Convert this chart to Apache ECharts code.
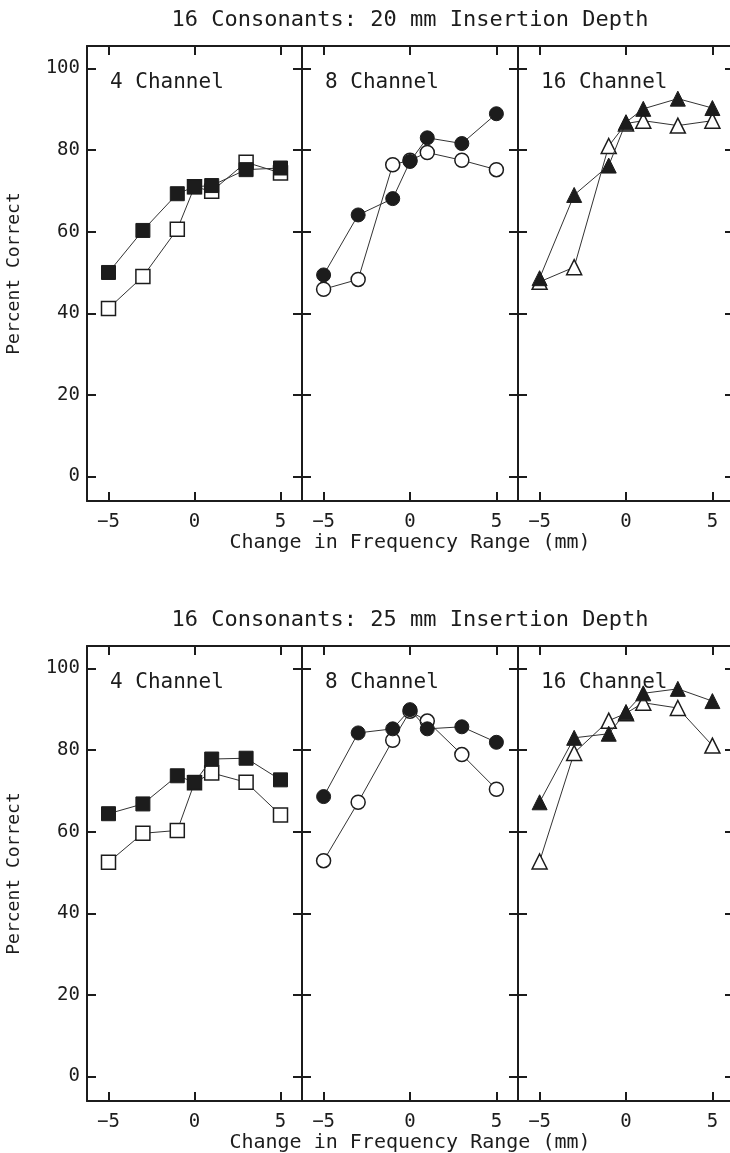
<!DOCTYPE html>
<html>
<head>
<meta charset="utf-8">
<script src="https://cdn.jsdelivr.net/npm/echarts@6/dist/echarts.min.js"></script>
<style>
  html, body { margin: 0; padding: 0; background: #fff; }
  #chart { width: 730px; height: 1153px; }
</style>
</head>
<body>
<div id="chart"></div>
<script>
// frequency shift (mm) for each point
var shifts = [-5, -3, -1, 0, 1, 3, 5];
var xTicks = [-5, 0, 5];
var yTicks = [0, 20, 40, 60, 80, 100];

// 20 mm insertion depth
var ch4_20_solid  = [50, 60.3, 69.3, 71, 71.3, 75.2, 75.6];
var ch4_20_open   = [41.2, 49, 60.6, 71, 69.9, 77, 74.4];
var ch8_20_solid  = [49.4, 64.1, 68.1, 77.2, 83, 81.6, 88.9];
var ch8_20_open   = [45.9, 48.3, 76.4, 77.5, 79.4, 77.5, 75.2];
var ch16_20_solid = [48.6, 69, 76.2, 86.8, 90.1, 92.6, 90.3];
var ch16_20_open  = [47.7, 51.3, 81, 86.5, 87.2, 86, 87.2];

// 25 mm insertion depth
var ch4_25_solid  = [64.4, 66.8, 73.7, 72.1, 77.8, 78, 72.7];
var ch4_25_open   = [52.5, 59.6, 60.3, 72, 74.4, 72.1, 64.1];
var ch8_25_solid  = [68.6, 84.2, 85.2, 89.9, 85.2, 85.7, 81.9];
var ch8_25_open   = [52.9, 67.2, 82.4, 89.5, 87.1, 78.9, 70.4];
var ch16_25_solid = [67.2, 83, 84, 89.3, 93.9, 95, 92];
var ch16_25_open  = [52.7, 79.3, 87.2, 89, 91.6, 90.3, 81.1];

var panelNames = ['4 Channel', '8 Channel', '16 Channel'];
var panelSymbols = ['rect', 'circle', 'triangle'];
var titles = ['16 Consonants: 20 mm Insertion Depth', '16 Consonants: 25 mm Insertion Depth'];

var panels = [
  [ch4_20_open, ch4_20_solid], [ch8_20_open, ch8_20_solid], [ch16_20_open, ch16_20_solid],
  [ch4_25_open, ch4_25_solid], [ch8_25_open, ch8_25_solid], [ch16_25_open, ch16_25_solid]
];

var FONT = '"DejaVu Sans Mono", monospace';
var INK = '#1c1c1c';
var lefts = [87, 302, 518];
var widths = [215, 216, 216];
var tops = [46, 646];
var H = 455;

function pairs(ys) {
  return shifts.map(function (x, i) { return [x, ys[i]]; });
}
function minus(v) { return String(v).replace('-', '\u2212'); }

var grid = [], xAxis = [], yAxis = [], series = [], graphic = [];

for (var r = 0; r < 2; r++) {
  graphic.push({
    type: 'text', x: 410, y: tops[r] - 26,
    style: { text: titles[r], font: '22px ' + FONT, fill: INK, align: 'center', verticalAlign: 'middle' }
  });
  graphic.push({
    type: 'text', x: 410, y: tops[r] + H + 42,
    style: { text: 'Change in Frequency Range (mm)', font: '20px ' + FONT, fill: INK, align: 'center', verticalAlign: 'middle' }
  });
  for (var c = 0; c < 3; c++) {
    var g = r * 3 + c;
    grid.push({ left: lefts[c], top: tops[r], width: widths[c], height: H, outerBoundsMode: 'none' });
    graphic.push({
      type: 'text', x: lefts[c] + 23, y: tops[r] + 37,
      style: { text: panelNames[c], font: '21px ' + FONT, fill: INK, align: 'left', verticalAlign: 'middle' }
    });

    var axisLine = { show: true, onZero: false, lineStyle: { color: INK, width: 2 } };
    var tick = { show: true, inside: true, length: 9, lineStyle: { color: INK, width: 2 } };

    xAxis.push({
      type: 'value', gridIndex: g, position: 'bottom', min: -6.25, max: 6.25,
      axisLine: axisLine,
      axisTick: Object.assign({ customValues: xTicks }, tick),
      axisLabel: { customValues: xTicks, formatter: minus, margin: 12, color: INK, fontFamily: FONT, fontSize: 19 },
      splitLine: { show: false }
    });
    xAxis.push({
      type: 'value', gridIndex: g, position: 'top', min: -6.25, max: 6.25,
      axisLine: axisLine,
      axisTick: Object.assign({ customValues: xTicks }, tick),
      axisLabel: { show: false },
      splitLine: { show: false }
    });
    yAxis.push({
      type: 'value', gridIndex: g, position: 'left', min: -6, max: 105.5,
      name: c === 0 ? 'Percent Correct' : '', nameLocation: 'middle', nameGap: 64, nameRotate: 90,
      nameTextStyle: { color: INK, fontFamily: FONT, fontSize: 18 },
      axisLine: axisLine,
      axisTick: Object.assign({ customValues: yTicks }, tick),
      axisLabel: { show: c === 0, customValues: yTicks, margin: 7, color: INK, fontFamily: FONT, fontSize: 19 },
      splitLine: { show: false }
    });
    yAxis.push({
      type: 'value', gridIndex: g, position: 'right', min: -6, max: 105.5,
      axisLine: axisLine,
      axisTick: Object.assign({ customValues: yTicks }, tick),
      axisLabel: { show: false },
      splitLine: { show: false }
    });

    var sym = panelSymbols[c];
    var size = sym === 'triangle' ? 15 : 14;
    // open markers first, filled drawn over them
    series.push({
      type: 'line', xAxisIndex: 2 * g, yAxisIndex: 2 * g,
      data: pairs(panels[g][0]),
      symbol: sym, symbolSize: size,
      lineStyle: { color: '#333', width: 1 },
      itemStyle: { color: '#fff', borderColor: INK, borderWidth: 1.5 },
      z: 2, animation: false
    });
    series.push({
      type: 'line', xAxisIndex: 2 * g, yAxisIndex: 2 * g,
      data: pairs(panels[g][1]),
      symbol: sym, symbolSize: size,
      lineStyle: { color: '#333', width: 1 },
      itemStyle: { color: INK, borderColor: INK, borderWidth: 1 },
      z: 3, animation: false
    });
  }
}

var myChart = echarts.init(document.getElementById('chart'));
myChart.setOption({
  backgroundColor: '#fff',
  animation: false,
  grid: grid,
  xAxis: xAxis,
  yAxis: yAxis,
  series: series,
  graphic: graphic
});
</script>
</body>
</html>
